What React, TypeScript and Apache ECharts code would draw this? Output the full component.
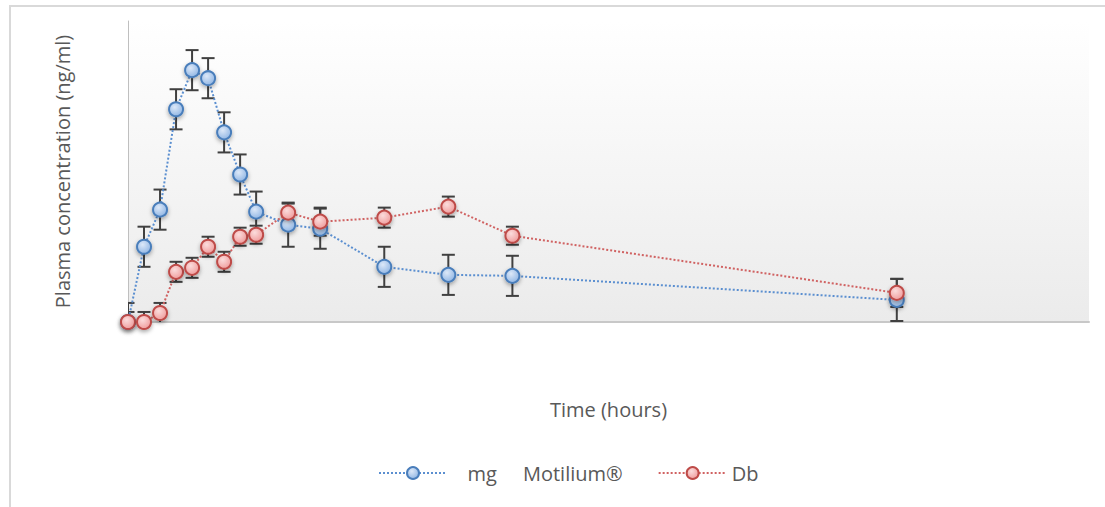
import React, { useEffect, useRef } from "react";
import * as echarts from "echarts";

const times = [0, 0.25, 0.5, 0.75, 1, 1.25, 1.5, 1.75, 2, 2.5, 3, 4, 5, 6, 12];
const mgValues = [0, 7.5, 11.2, 21.2, 25.1, 24.3, 18.9, 14.7, 11.0, 9.7, 9.3, 5.5, 4.7, 4.6, 2.2];
const mgErrors = [1.9, 2.0, 2.0, 2.0, 2.0, 2.0, 2.0, 2.0, 2.0, 2.2, 2.0, 2.0, 2.0, 2.0, 2.1];
const dbValues = [0, 0, 0.9, 5.0, 5.4, 7.5, 6.0, 8.5, 8.7, 10.9, 10.0, 10.4, 11.5, 8.6, 2.9];
const dbErrors = [1.0, 1.0, 1.0, 1.0, 1.0, 1.0, 1.0, 0.9, 0.9, 0.9, 1.4, 1.0, 1.0, 0.9, 1.4];

const seriesNames = ["   mg     Motilium®", "Db"];
const xTitle = "Time (hours)";
const yTitle = "Plasma concentration (ng/ml)";

const FONT = "'Open Sans', sans-serif";

function errData(vals: number[], errs: number[]) {
  return times.map((t, i) => [t, vals[i] - errs[i], vals[i] + errs[i]]);
}

function errRender(params: any, api: any) {
  const x = api.value(0);
  const lo = api.coord([x, api.value(1)]);
  const hi = api.coord([x, api.value(2)]);
  const hw = 6.5;
  const style = { stroke: "#404040", lineWidth: 2 };
  return {
    type: "group",
    children: [
      { type: "line", shape: { x1: lo[0], y1: lo[1], x2: hi[0], y2: hi[1] }, style },
      { type: "line", shape: { x1: lo[0] - hw, y1: lo[1], x2: lo[0] + hw, y2: lo[1] }, style },
      { type: "line", shape: { x1: hi[0] - hw, y1: hi[1], x2: hi[0] + hw, y2: hi[1] }, style },
    ],
  };
}

export default function App() {
  const ref = useRef<HTMLDivElement>(null);
  useEffect(() => {
    if (!ref.current) return;
    const chart = echarts.init(ref.current, null, { renderer: "svg" });
    const blueFill = new echarts.graphic.RadialGradient(0.4, 0.35, 0.7, [
      { offset: 0, color: "#dce8f8" },
      { offset: 1, color: "#8eb4e3" },
    ]);
    const redFill = new echarts.graphic.RadialGradient(0.4, 0.35, 0.7, [
      { offset: 0, color: "#fbdcdc" },
      { offset: 1, color: "#ef9a9a" },
    ]);
    chart.setOption({
      animation: false,
      backgroundColor: "#ffffff",
      textStyle: { fontFamily: FONT },
      graphic: [
        {
          type: "rect",
          shape: { x: 10, y: 6, width: 1110, height: 520 },
          style: { fill: "none", stroke: "#d9d9d9", lineWidth: 2 },
          silent: true,
        },
      ],
      grid: {
        left: 128,
        right: 16,
        top: 21,
        bottom: 185,
        show: true,
        borderWidth: 0,
        backgroundColor: new echarts.graphic.LinearGradient(0, 0, 0, 1, [
          { offset: 0, color: "#ffffff" },
          { offset: 1, color: "#ebebeb" },
        ]),
      },
      legend: {
        top: 458,
        left: 373,
        itemWidth: 68,
        itemHeight: 15,
        itemGap: 35,
        textStyle: { fontFamily: FONT, fontSize: 20, color: "#595959" },
        data: seriesNames,
      },
      xAxis: {
        type: "value",
        min: 0,
        max: 15,
        name: xTitle,
        nameLocation: "middle",
        nameGap: 77,
        nameTextStyle: { fontFamily: FONT, fontSize: 20, color: "#595959" },
        axisLine: { show: true, lineStyle: { color: "#c8c8c8", width: 2 } },
        axisTick: { show: false },
        axisLabel: { show: false },
        splitLine: { show: false },
      },
      yAxis: {
        type: "value",
        min: 0,
        max: 30,
        name: yTitle,
        nameLocation: "middle",
        nameGap: 56,
        nameTextStyle: { fontFamily: FONT, fontSize: 20, color: "#595959" },
        axisLine: { show: true, lineStyle: { color: "#bfbfbf", width: 1 } },
        axisTick: { show: false },
        axisLabel: { show: false },
        splitLine: { show: false },
      },
      series: [
        {
          type: "custom",
          clip: true,
          renderItem: errRender,
          data: errData(mgValues, mgErrors),
          z: 1,
          silent: true,
        },
        {
          type: "custom",
          clip: true,
          renderItem: errRender,
          data: errData(dbValues, dbErrors),
          z: 1,
          silent: true,
        },
        {
          name: seriesNames[0],
          type: "line",
          data: times.map((t, i) => [t, mgValues[i]]),
          symbol: "circle",
          symbolSize: 14,
          showAllSymbol: true,
          z: 3,
          lineStyle: { color: "#5b8fd0", width: 2, type: "dotted" },
          itemStyle: {
            color: blueFill,
            borderColor: "#4a7ebb",
            borderWidth: 2,
            shadowBlur: 4,
            shadowColor: "rgba(0,0,0,0.35)",
            shadowOffsetY: 2,
          },
        },
        {
          name: seriesNames[1],
          type: "line",
          data: times.map((t, i) => [t, dbValues[i]]),
          symbol: "circle",
          symbolSize: 14,
          showAllSymbol: true,
          z: 4,
          lineStyle: { color: "#d06262", width: 2, type: "dotted" },
          itemStyle: {
            color: redFill,
            borderColor: "#be4b48",
            borderWidth: 2,
            shadowBlur: 4,
            shadowColor: "rgba(0,0,0,0.35)",
            shadowOffsetY: 2,
          },
        },
      ],
    });
    return () => chart.dispose();
  }, []);
  return (
    <div
      ref={ref}
      style={{ position: "absolute", left: 0, top: 0, width: 1105, height: 507 }}
    />
  );
}
